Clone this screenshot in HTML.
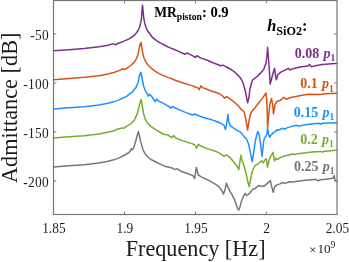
<!DOCTYPE html>
<html><head><meta charset="utf-8"><style>
html,body{margin:0;padding:0;background:#fff;width:349px;height:262px;overflow:hidden;font-family:"Liberation Serif",serif;}
svg{display:block;filter:blur(0.45px);}
</style></head><body>
<svg width="349" height="262" viewBox="0 0 349 262">
<rect width="349" height="262" fill="#fff"/>
<polyline fill="none" stroke="#7E2F8E" stroke-width="1.5" stroke-linejoin="round" stroke-linecap="round" points="53.5,50.8 69,49.7 84,48.5 99,46.8 108,45.2 113.3,43.6 115.5,44.8 117.2,43.7 124.1,41.1 130,38.4 134.6,35.1 137.6,31.3 139.5,27.5 140.7,22.9 141.5,18.3 141.9,12.2 142.5,4.9 143.2,12.2 143.8,18.3 144.7,22.9 146,27.5 148,31.3 152.3,37.3 156.6,40.7 160.9,43.3 165.2,45.5 169.5,47.6 173.8,49.3 178,51.1 184.9,54.3 187,52.9 194.3,56.6 195.3,57.5 196.7,55.7 200.4,57.9 208,60.5 212.9,62.7 219,65 220.6,65.8 222.8,65.1 227.5,67.5 231.8,70 234.4,71.8 236,73.5 237,74.4 240.1,77.5 242.4,81.3 243.9,85.8 245.5,92 247,99.6 247.7,102.8 248.8,98 250,88.9 251.6,82.8 252.6,80 253.8,79 256.9,76.7 260.7,72.9 264,69 264.6,66.6 265.9,63.9 266.9,56 267.6,47.3 268.7,61 270.2,84.1 271.6,78.8 273.4,71.8 274.6,68.3 275.7,77.1 276.4,79.7 277.8,74.5 281.3,71.8 284.8,70.1 288.3,68.3 290.1,70.1 292,68.9 300,67.1 308,65.9 309.5,64.6 311.5,66.8 314,66.1 322,64.6 335,63.6 337,63.5"/>
<polyline fill="none" stroke="#D95319" stroke-width="1.5" stroke-linejoin="round" stroke-linecap="round" points="53.5,79.65 69,78.55 84,77.35 99,75.65 108,74.05 113.8,72.55 119.2,70.6 122.9,68.7 125,69.6 126.5,68.4 130.8,65.5 134.5,61.9 136.6,58.3 138.1,54 139.2,48.1 140.3,43.8 141,42.2 141.8,47.6 142.9,53.7 144.1,58.3 146.4,62.9 149.5,66.7 153.3,69.8 157.8,72.8 162.4,75.1 167.9,77.4 174.6,80 183.2,83 191.8,85.6 196,87.3 197.4,87.6 199.2,89.6 200.9,85.9 202.6,87.6 206.9,89.3 211.2,91 215.5,92.3 219.8,94 222.4,95.8 224,97.5 224.3,98.1 226.6,96.6 231.2,99.6 235.7,103.5 239.6,107.3 241.1,109.6 242.3,110.2 244.1,111.8 245.7,118.7 246.9,125.6 247.6,130.2 248.7,122.5 250.2,114.9 251.9,111.1 252.5,110.7 255.9,106.5 259.2,102.3 262.6,98.1 264.8,94.7 266,93 266.8,101.4 267.3,113.2 267.6,127.5 268.5,116.6 269.8,104.8 271.5,98.4 272.7,104.8 273.5,114 274.9,104.8 276.9,101.4 280,100.6 284,97.3 286.2,99.2 290.9,97.5 299.5,95.7 308,94.3 320.8,94.5 324,94.1 327.1,93.8 337,93.2"/>
<polyline fill="none" stroke="#1E90FF" stroke-width="1.5" stroke-linejoin="round" stroke-linecap="round" points="53.5,108.95 69,107.85 84,106.65 99,104.95 108,103.35 113.8,101.85 119.2,99.9 126.5,96.3 132.3,91.9 135.9,87.6 138.1,82.5 139.2,76.7 140.3,73.1 140.9,72.3 142.1,78 143.5,85.9 145.2,90.3 147.4,93.9 148.4,96.1 149.6,94.3 152.5,97.5 155.1,101.6 156.6,99 158.8,101.2 162.9,103.2 167,105.3 169.8,107 170.8,108.3 172.5,106.5 175.3,108 180,110.1 186,112.6 191.5,114.7 192.5,115.1 194.3,114 202.6,117.2 208,118.8 211.2,119.6 218.1,122 222.4,124.2 224,125.5 225.5,129.6 226.8,122.9 228,114.3 228.7,121 230.3,125.8 236,129.6 240.8,132.4 244.6,137.2 246,138 248.3,143.3 249.8,149.4 251.3,157.1 252.1,161.6 253.3,155.5 254.9,143.3 256.7,134.9 257.8,131.4 259,134.2 260.5,143.3 261.3,151 262,156.3 262.8,149.4 263.6,141.8 264.3,138.7 265.8,136.5 266.9,134 267.6,128 268.6,134.2 269.7,137.2 271.2,134.9 273.5,132.6 276,131.1 276.6,129.9 278.3,130.3 282.6,128.3 284.7,129.2 286.9,127.9 291.2,126.6 296.8,125.3 298.9,126.3 304,124.9 309,124.2 318.7,123.3 320.7,124.2 322.2,123.3 337,122.7"/>
<polyline fill="none" stroke="#77AC30" stroke-width="1.5" stroke-linejoin="round" stroke-linecap="round" points="53.5,137.95 69,136.85 84,135.65 99,133.95 108,132.35 113.8,130.85 117.8,129 122.1,127.9 123.6,128.3 126.5,126.4 130.8,123.8 134.5,119.9 137.4,113.4 139.2,106.1 140.5,101 141.2,99.6 142.5,107.2 143.6,113.6 145.2,119.2 147.6,123.2 150.8,126.4 155.6,129.7 160.4,132.5 164.4,134.5 168,134.8 168.6,135.6 172,137.6 173.9,135.6 175.5,137.9 178.9,139.3 183.2,140.9 187.5,142.2 191.8,143.6 194.4,144.8 196,146.9 196.6,148.3 198.3,144.3 200.9,146 206.9,148.6 211.2,149.9 215.5,151.2 219.8,153.3 224,156.3 224.4,156.3 226,154.7 230,157.6 234.8,163.2 237.2,166.4 238.8,169.6 240.9,155.2 242,160 244.4,167.2 246.8,176.8 248.4,184.1 249.2,186.5 250.5,180 252,172 254.3,166.7 256.4,164.5 258.5,163.8 261.7,160.8 263.3,162.9 265.8,158.5 266.5,159.7 267.6,167.2 269.2,159.7 272.9,152.3 274.5,160.8 276.1,158.1 277.2,159.7 278.8,158.7 280,157.6 283.8,156.2 287.7,155.2 292.6,154 295.1,154.6 297.5,153.7 304.3,153 312,152.1 315.7,151.7 320.6,151.4 322.1,152.2 323.5,151.5 335.2,150.3 337,150.1"/>
<polyline fill="none" stroke="#777777" stroke-width="1.5" stroke-linejoin="round" stroke-linecap="round" points="53.5,166.95 69,165.85 84,164.65 99,162.95 108,161.35 113.8,159.85 119.2,157.9 125,155 129.4,152.1 131.3,148.9 132.3,149.9 133.7,147.7 135.9,140.5 137.4,134.7 138.4,131.4 139.5,136.1 140.7,141.9 142,146.3 143,149.8 144.9,153.4 147.3,156.5 151,159.5 155.9,162 160.7,164.4 165.6,166.6 170,167.5 171.4,167.7 174.9,169.6 177,168.6 180.9,171.2 185.2,172.7 189.5,174.2 192.9,175.6 194.7,178.6 196.3,167.6 196.4,167.4 198.3,175 201.3,176.8 206.2,179.2 212.3,182.3 217.2,185.3 218,186.1 220.2,188.3 222.1,191.2 223.5,194.1 225,189.8 226.4,183.2 227.9,186.9 230.3,191.9 232.5,195.6 234.7,199.9 236.1,204.3 237.6,208.6 238.6,210.1 239.7,207.9 241.2,202.1 243.4,196.3 245.2,193.4 246.7,195.5 248,194.6 250,192.8 252.9,188.9 254.9,188.7 256.9,186.9 258.9,185.4 260.4,186.4 261.9,185.9 263.8,186.4 266.8,183.9 270.3,180.6 271.8,186.9 273.2,192.3 274.7,186.9 276.7,184.9 280,183.9 282.9,182.5 284.8,183.4 289.7,181.7 292.6,182.1 297.5,181.3 305.3,180.3 312,179.7 315.9,179.3 318.4,181 319.9,179.8 325.8,179.3 332.8,178.3 334.2,175.6 335.1,180.6 337,181.2"/>
<rect x="53.5" y="0.5" width="283.5" height="214.0" fill="none" stroke="#777777" stroke-width="1.2"/>
<line x1="124.5" y1="214.5" x2="124.5" y2="211.7" stroke="#777777" stroke-width="1"/>
<line x1="124.5" y1="0.5" x2="124.5" y2="3.3" stroke="#777777" stroke-width="1"/>
<line x1="195.5" y1="214.5" x2="195.5" y2="211.7" stroke="#777777" stroke-width="1"/>
<line x1="195.5" y1="0.5" x2="195.5" y2="3.3" stroke="#777777" stroke-width="1"/>
<line x1="266.3" y1="214.5" x2="266.3" y2="211.7" stroke="#777777" stroke-width="1"/>
<line x1="266.3" y1="0.5" x2="266.3" y2="3.3" stroke="#777777" stroke-width="1"/>
<line x1="53.5" y1="34.0" x2="56.3" y2="34.0" stroke="#777777" stroke-width="1"/>
<line x1="337.0" y1="34.0" x2="334.2" y2="34.0" stroke="#777777" stroke-width="1"/>
<line x1="53.5" y1="83.0" x2="56.3" y2="83.0" stroke="#777777" stroke-width="1"/>
<line x1="337.0" y1="83.0" x2="334.2" y2="83.0" stroke="#777777" stroke-width="1"/>
<line x1="53.5" y1="132.0" x2="56.3" y2="132.0" stroke="#777777" stroke-width="1"/>
<line x1="337.0" y1="132.0" x2="334.2" y2="132.0" stroke="#777777" stroke-width="1"/>
<line x1="53.5" y1="181.0" x2="56.3" y2="181.0" stroke="#777777" stroke-width="1"/>
<line x1="337.0" y1="181.0" x2="334.2" y2="181.0" stroke="#777777" stroke-width="1"/>
<text transform="translate(53.9,233.1) scale(1,1.06)" font-size="13.4" text-anchor="middle" font-family="Liberation Serif" fill="#1c1c1c">1.85</text>
<text transform="translate(124.9,233.1) scale(1,1.06)" font-size="13.4" text-anchor="middle" font-family="Liberation Serif" fill="#1c1c1c">1.9</text>
<text transform="translate(195.9,233.1) scale(1,1.06)" font-size="13.4" text-anchor="middle" font-family="Liberation Serif" fill="#1c1c1c">1.95</text>
<text transform="translate(266.7,233.1) scale(1,1.06)" font-size="13.4" text-anchor="middle" font-family="Liberation Serif" fill="#1c1c1c">2</text>
<text transform="translate(337.4,233.1) scale(1,1.06)" font-size="13.4" text-anchor="middle" font-family="Liberation Serif" fill="#1c1c1c">2.05</text>
<text transform="translate(48.9,39.9) scale(1,1.15)" font-size="13.4" letter-spacing="0.3" text-anchor="end" font-family="Liberation Serif" fill="#1c1c1c">-50</text>
<text transform="translate(48.9,88.9) scale(1,1.15)" font-size="13.4" letter-spacing="0.3" text-anchor="end" font-family="Liberation Serif" fill="#1c1c1c">-100</text>
<text transform="translate(48.9,137.9) scale(1,1.15)" font-size="13.4" letter-spacing="0.3" text-anchor="end" font-family="Liberation Serif" fill="#1c1c1c">-150</text>
<text transform="translate(48.9,186.9) scale(1,1.15)" font-size="13.4" letter-spacing="0.3" text-anchor="end" font-family="Liberation Serif" fill="#1c1c1c">-200</text>
<text x="195.6" y="256.2" font-size="22.2" text-anchor="middle" font-family="Liberation Serif" fill="#1c1c1c">Frequency [Hz]</text>
<text transform="translate(16.9,107.8) rotate(-90)" font-size="22.3" text-anchor="middle" font-family="Liberation Serif" fill="#1c1c1c">Admittance [dB]</text>
<text x="309" y="254.4" font-size="13.2" font-family="Liberation Serif" fill="#1c1c1c">×</text>
<text x="317.4" y="253.2" font-size="13.2" font-family="Liberation Serif" fill="#1c1c1c">10<tspan font-size="9.6" dy="-5">9</tspan></text>
<text x="154.2" y="16.7" font-size="13.6" font-family="Liberation Serif" font-weight="bold" fill="#000">MR<tspan font-size="9.6" dy="3.4">piston</tspan><tspan dy="-3.4" font-size="14.6">: 0.9</tspan></text>
<text x="267.2" y="30.6" font-size="16.4" font-family="Liberation Serif" font-weight="bold" fill="#000"><tspan font-style="italic">h</tspan><tspan font-size="12.2" dy="4.4">SiO2</tspan><tspan dy="-4.4">:</tspan></text>
<text x="335.3" y="57.8" font-size="14" text-anchor="end" font-family="Liberation Serif" font-weight="bold" fill="#7E2F8E">0.08 <tspan font-style="italic" dx="0.8">p</tspan><tspan font-size="9.6" dy="3.2">1</tspan></text>
<text x="333.8" y="88.3" font-size="14" text-anchor="end" font-family="Liberation Serif" font-weight="bold" fill="#D95319">0.1 <tspan font-style="italic" dx="0.8">p</tspan><tspan font-size="9.6" dy="3.2">1</tspan></text>
<text x="334.4" y="116.7" font-size="14" text-anchor="end" font-family="Liberation Serif" font-weight="bold" fill="#1E90FF">0.15 <tspan font-style="italic" dx="0.8">p</tspan><tspan font-size="9.6" dy="3.2">1</tspan></text>
<text x="333.9" y="144.0" font-size="14" text-anchor="end" font-family="Liberation Serif" font-weight="bold" fill="#77AC30">0.2 <tspan font-style="italic" dx="0.8">p</tspan><tspan font-size="9.6" dy="3.2">1</tspan></text>
<text x="334.6" y="170.7" font-size="14" text-anchor="end" font-family="Liberation Serif" font-weight="bold" fill="#767676">0.25 <tspan font-style="italic" dx="0.8">p</tspan><tspan font-size="9.6" dy="3.2">1</tspan></text>
</svg>
</body></html>
